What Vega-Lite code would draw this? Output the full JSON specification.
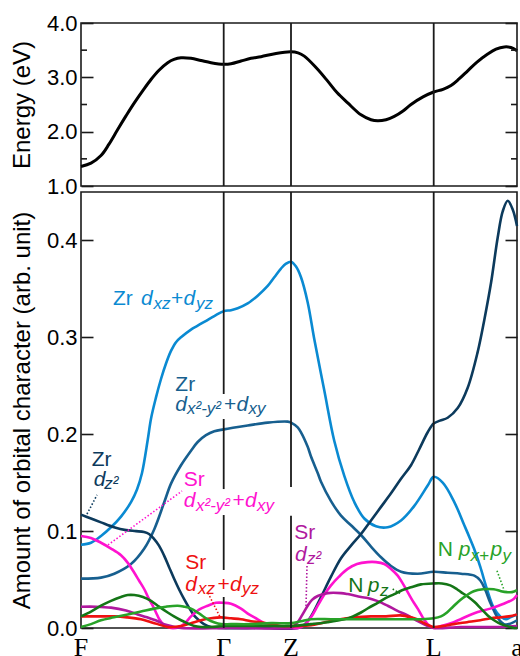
{
  "$schema": "https://vega.github.io/schema/vega-lite/v6.json",
  "padding": {"left": 9, "top": 11, "right": 12, "bottom": 34},
  "spacing": 6,
  "bounds": "flush",
  "config": {
    "view": {"stroke": "#1a1a1a", "strokeWidth": 1.6},
    "font": "Liberation Sans",
    "axis": {"grid": false, "domain": false, "tickColor": "#1a1a1a", "tickWidth": 1.6, "labelColor": "black", "titleColor": "black", "labelFont": "Liberation Sans", "titleFont": "Liberation Sans", "titleFontWeight": "normal", "labelFontSize": 22, "titleFontSize": 24}
  },
  "datasets": {
    "energy": [
      {"k":0,"E":1.36},{"k":10,"E":1.42},{"k":20,"E":1.56},{"k":28,"E":1.77},{"k":36.7,"E":2.04},{"k":45,"E":2.29},{"k":53.3,"E":2.53},{"k":62,"E":2.76},{"k":70,"E":2.96},{"k":78,"E":3.13},{"k":86.7,"E":3.27},{"k":93,"E":3.33},{"k":100,"E":3.36},{"k":110,"E":3.35},{"k":120,"E":3.31},{"k":130,"E":3.27},{"k":142.7,"E":3.24},{"k":150,"E":3.25},{"k":160,"E":3.30},{"k":170,"E":3.35},{"k":180,"E":3.38},{"k":195,"E":3.44},{"k":210,"E":3.47},{"k":217,"E":3.45},{"k":223.3,"E":3.39},{"k":235,"E":3.18},{"k":246.7,"E":2.93},{"k":256,"E":2.72},{"k":266.7,"E":2.53},{"k":280,"E":2.31},{"k":290,"E":2.22},{"k":296.7,"E":2.20},{"k":305,"E":2.22},{"k":313.3,"E":2.28},{"k":322,"E":2.38},{"k":330,"E":2.5},{"k":342,"E":2.64},{"k":352.7,"E":2.73},{"k":362,"E":2.78},{"k":370,"E":2.85},{"k":378,"E":2.97},{"k":386.7,"E":3.12},{"k":396,"E":3.28},{"k":406.7,"E":3.43},{"k":415,"E":3.52},{"k":423.3,"E":3.56},{"k":430,"E":3.55},{"k":436,"E":3.49}
    ],
    "kpts": [{"k":142.7},{"k":210},{"k":352.7}],
    "kticks": [{"k":0,"name":"F"},{"k":142.7,"name":"Γ"},{"k":210,"name":"Z"},{"k":352.7,"name":"L"},{"k":436,"name":"a"}],
    "minorE": [{"E":1.5},{"E":2.5},{"E":3.5}],
    "kseg": [
      {"k":142.7,"y":0.2415,"y2":0.45},{"k":142.7,"y":0.1434,"y2":0.2157},{"k":142.7,"y":0.0599,"y2":0.1166},{"k":142.7,"y":0,"y2":0.032},
      {"k":210,"y":0.1455,"y2":0.45},{"k":210,"y":0,"y2":0.1159},
      {"k":352.7,"y":0,"y2":0.45}
    ],
    "orb": [
      {"s":"Zr dxz+dyz","k":0,"v":0.086},{"s":"Zr dxz+dyz","k":10,"v":0.088},{"s":"Zr dxz+dyz","k":20,"v":0.095},{"s":"Zr dxz+dyz","k":30,"v":0.104},{"s":"Zr dxz+dyz","k":40,"v":0.115},{"s":"Zr dxz+dyz","k":50,"v":0.13},{"s":"Zr dxz+dyz","k":56,"v":0.143},{"s":"Zr dxz+dyz","k":61,"v":0.16},{"s":"Zr dxz+dyz","k":66.7,"v":0.194},{"s":"Zr dxz+dyz","k":70,"v":0.216},{"s":"Zr dxz+dyz","k":75,"v":0.238},{"s":"Zr dxz+dyz","k":80,"v":0.257},{"s":"Zr dxz+dyz","k":85,"v":0.273},{"s":"Zr dxz+dyz","k":90,"v":0.286},{"s":"Zr dxz+dyz","k":95,"v":0.295},{"s":"Zr dxz+dyz","k":100,"v":0.300},{"s":"Zr dxz+dyz","k":110,"v":0.308},{"s":"Zr dxz+dyz","k":116.7,"v":0.312},{"s":"Zr dxz+dyz","k":133.3,"v":0.322},{"s":"Zr dxz+dyz","k":142.7,"v":0.327},{"s":"Zr dxz+dyz","k":150,"v":0.328},{"s":"Zr dxz+dyz","k":156.7,"v":0.330},{"s":"Zr dxz+dyz","k":166.7,"v":0.335},{"s":"Zr dxz+dyz","k":176.7,"v":0.343},{"s":"Zr dxz+dyz","k":186.7,"v":0.353},{"s":"Zr dxz+dyz","k":193.3,"v":0.362},{"s":"Zr dxz+dyz","k":200,"v":0.371},{"s":"Zr dxz+dyz","k":205,"v":0.376},{"s":"Zr dxz+dyz","k":210,"v":0.378},{"s":"Zr dxz+dyz","k":215,"v":0.373},{"s":"Zr dxz+dyz","k":220,"v":0.362},{"s":"Zr dxz+dyz","k":226.7,"v":0.336},{"s":"Zr dxz+dyz","k":233.3,"v":0.298},{"s":"Zr dxz+dyz","k":243.3,"v":0.245},{"s":"Zr dxz+dyz","k":253.3,"v":0.193},{"s":"Zr dxz+dyz","k":263.3,"v":0.157},{"s":"Zr dxz+dyz","k":273.3,"v":0.13},{"s":"Zr dxz+dyz","k":283.3,"v":0.113},{"s":"Zr dxz+dyz","k":295,"v":0.105},{"s":"Zr dxz+dyz","k":306.7,"v":0.104},{"s":"Zr dxz+dyz","k":320,"v":0.111},{"s":"Zr dxz+dyz","k":333.3,"v":0.126},{"s":"Zr dxz+dyz","k":346.7,"v":0.147},{"s":"Zr dxz+dyz","k":352.7,"v":0.156},{"s":"Zr dxz+dyz","k":361.7,"v":0.150},{"s":"Zr dxz+dyz","k":373.3,"v":0.13},{"s":"Zr dxz+dyz","k":383.3,"v":0.106},{"s":"Zr dxz+dyz","k":388.3,"v":0.094},{"s":"Zr dxz+dyz","k":393,"v":0.082},{"s":"Zr dxz+dyz","k":399.3,"v":0.063},{"s":"Zr dxz+dyz","k":406,"v":0.04},{"s":"Zr dxz+dyz","k":412.7,"v":0.021},{"s":"Zr dxz+dyz","k":419.3,"v":0.012},{"s":"Zr dxz+dyz","k":425,"v":0.009},{"s":"Zr dxz+dyz","k":429.3,"v":0.011},{"s":"Zr dxz+dyz","k":436,"v":0.014},

      {"s":"Zr dx2-y2+dxy","k":0,"v":0.051},{"s":"Zr dx2-y2+dxy","k":20,"v":0.052},{"s":"Zr dx2-y2+dxy","k":33.3,"v":0.056},{"s":"Zr dx2-y2+dxy","k":50,"v":0.066},{"s":"Zr dx2-y2+dxy","k":63.3,"v":0.082},{"s":"Zr dx2-y2+dxy","k":73.3,"v":0.102},{"s":"Zr dx2-y2+dxy","k":83.3,"v":0.13},{"s":"Zr dx2-y2+dxy","k":90,"v":0.149},{"s":"Zr dx2-y2+dxy","k":100,"v":0.168},{"s":"Zr dx2-y2+dxy","k":110,"v":0.183},{"s":"Zr dx2-y2+dxy","k":116.7,"v":0.192},{"s":"Zr dx2-y2+dxy","k":125,"v":0.199},{"s":"Zr dx2-y2+dxy","k":133.3,"v":0.203},{"s":"Zr dx2-y2+dxy","k":142.7,"v":0.205},{"s":"Zr dx2-y2+dxy","k":166.7,"v":0.209},{"s":"Zr dx2-y2+dxy","k":186.7,"v":0.212},{"s":"Zr dx2-y2+dxy","k":206.7,"v":0.213},{"s":"Zr dx2-y2+dxy","k":210,"v":0.212},{"s":"Zr dx2-y2+dxy","k":216.7,"v":0.207},{"s":"Zr dx2-y2+dxy","k":220,"v":0.202},{"s":"Zr dx2-y2+dxy","k":226.7,"v":0.187},{"s":"Zr dx2-y2+dxy","k":230,"v":0.177},{"s":"Zr dx2-y2+dxy","k":236.7,"v":0.16},{"s":"Zr dx2-y2+dxy","k":240,"v":0.151},{"s":"Zr dx2-y2+dxy","k":250,"v":0.131},{"s":"Zr dx2-y2+dxy","k":260,"v":0.116},{"s":"Zr dx2-y2+dxy","k":270,"v":0.106},{"s":"Zr dx2-y2+dxy","k":280,"v":0.096},{"s":"Zr dx2-y2+dxy","k":290,"v":0.084},{"s":"Zr dx2-y2+dxy","k":300,"v":0.073},{"s":"Zr dx2-y2+dxy","k":310,"v":0.064},{"s":"Zr dx2-y2+dxy","k":320,"v":0.058},{"s":"Zr dx2-y2+dxy","k":336.7,"v":0.056},{"s":"Zr dx2-y2+dxy","k":352.7,"v":0.058},{"s":"Zr dx2-y2+dxy","k":366.7,"v":0.057},{"s":"Zr dx2-y2+dxy","k":380,"v":0.056},{"s":"Zr dx2-y2+dxy","k":393.3,"v":0.054},{"s":"Zr dx2-y2+dxy","k":399.3,"v":0.049},{"s":"Zr dx2-y2+dxy","k":404,"v":0.040},{"s":"Zr dx2-y2+dxy","k":409.3,"v":0.026},{"s":"Zr dx2-y2+dxy","k":413.3,"v":0.017},{"s":"Zr dx2-y2+dxy","k":417.7,"v":0.009},{"s":"Zr dx2-y2+dxy","k":423,"v":0.004},{"s":"Zr dx2-y2+dxy","k":428,"v":0.004},{"s":"Zr dx2-y2+dxy","k":436,"v":0.008},

      {"s":"Zr dz2","k":0,"v":0.117},{"s":"Zr dz2","k":10,"v":0.113},{"s":"Zr dz2","k":20,"v":0.109},{"s":"Zr dz2","k":33,"v":0.104},{"s":"Zr dz2","k":45,"v":0.101},{"s":"Zr dz2","k":55,"v":0.100},{"s":"Zr dz2","k":63,"v":0.099},{"s":"Zr dz2","k":68,"v":0.097},{"s":"Zr dz2","k":73,"v":0.092},{"s":"Zr dz2","k":78,"v":0.085},{"s":"Zr dz2","k":83,"v":0.075},{"s":"Zr dz2","k":88,"v":0.063},{"s":"Zr dz2","k":93,"v":0.051},{"s":"Zr dz2","k":98,"v":0.04},{"s":"Zr dz2","k":103,"v":0.03},{"s":"Zr dz2","k":108,"v":0.021},{"s":"Zr dz2","k":113,"v":0.013},{"s":"Zr dz2","k":118,"v":0.008},{"s":"Zr dz2","k":123,"v":0.004},{"s":"Zr dz2","k":130,"v":0.001},{"s":"Zr dz2","k":140,"v":0.0},{"s":"Zr dz2","k":180,"v":0.0},{"s":"Zr dz2","k":217,"v":0.0},{"s":"Zr dz2","k":223,"v":0.003},{"s":"Zr dz2","k":230,"v":0.012},{"s":"Zr dz2","k":240,"v":0.032},{"s":"Zr dz2","k":250,"v":0.053},{"s":"Zr dz2","k":260,"v":0.072},{"s":"Zr dz2","k":270,"v":0.085},{"s":"Zr dz2","k":280,"v":0.097},{"s":"Zr dz2","k":290,"v":0.111},{"s":"Zr dz2","k":300,"v":0.125},{"s":"Zr dz2","k":310,"v":0.139},{"s":"Zr dz2","k":320,"v":0.154},{"s":"Zr dz2","k":330,"v":0.168},{"s":"Zr dz2","k":338,"v":0.184},{"s":"Zr dz2","k":346.7,"v":0.202},{"s":"Zr dz2","k":352.7,"v":0.211},{"s":"Zr dz2","k":359,"v":0.214},{"s":"Zr dz2","k":366.7,"v":0.217},{"s":"Zr dz2","k":376.7,"v":0.227},{"s":"Zr dz2","k":386.7,"v":0.248},{"s":"Zr dz2","k":396.7,"v":0.285},{"s":"Zr dz2","k":403.3,"v":0.318},{"s":"Zr dz2","k":410,"v":0.356},{"s":"Zr dz2","k":416.7,"v":0.403},{"s":"Zr dz2","k":421.7,"v":0.43},{"s":"Zr dz2","k":426.7,"v":0.441},{"s":"Zr dz2","k":431.7,"v":0.432},{"s":"Zr dz2","k":436,"v":0.415},

      {"s":"Sr dx2-y2+dxy","k":0,"v":0.095},{"s":"Sr dx2-y2+dxy","k":10,"v":0.093},{"s":"Sr dx2-y2+dxy","k":20,"v":0.088},{"s":"Sr dx2-y2+dxy","k":30,"v":0.082},{"s":"Sr dx2-y2+dxy","k":40,"v":0.075},{"s":"Sr dx2-y2+dxy","k":47,"v":0.067},{"s":"Sr dx2-y2+dxy","k":53.3,"v":0.057},{"s":"Sr dx2-y2+dxy","k":58,"v":0.049},{"s":"Sr dx2-y2+dxy","k":63.3,"v":0.04},{"s":"Sr dx2-y2+dxy","k":67,"v":0.032},{"s":"Sr dx2-y2+dxy","k":71.7,"v":0.023},{"s":"Sr dx2-y2+dxy","k":75,"v":0.016},{"s":"Sr dx2-y2+dxy","k":78.3,"v":0.009},{"s":"Sr dx2-y2+dxy","k":82,"v":0.004},{"s":"Sr dx2-y2+dxy","k":85,"v":0.002},{"s":"Sr dx2-y2+dxy","k":90,"v":0.0},{"s":"Sr dx2-y2+dxy","k":98,"v":0.001},{"s":"Sr dx2-y2+dxy","k":104,"v":0.005},{"s":"Sr dx2-y2+dxy","k":110,"v":0.012},{"s":"Sr dx2-y2+dxy","k":118,"v":0.019},{"s":"Sr dx2-y2+dxy","k":126.7,"v":0.023},{"s":"Sr dx2-y2+dxy","k":135,"v":0.026},{"s":"Sr dx2-y2+dxy","k":142.7,"v":0.026},{"s":"Sr dx2-y2+dxy","k":150,"v":0.025},{"s":"Sr dx2-y2+dxy","k":160,"v":0.02},{"s":"Sr dx2-y2+dxy","k":168,"v":0.014},{"s":"Sr dx2-y2+dxy","k":176.7,"v":0.009},{"s":"Sr dx2-y2+dxy","k":185,"v":0.004},{"s":"Sr dx2-y2+dxy","k":195,"v":0.001},{"s":"Sr dx2-y2+dxy","k":210,"v":0.0},{"s":"Sr dx2-y2+dxy","k":217,"v":0.0},{"s":"Sr dx2-y2+dxy","k":223.3,"v":0.003},{"s":"Sr dx2-y2+dxy","k":230,"v":0.011},{"s":"Sr dx2-y2+dxy","k":236.7,"v":0.023},{"s":"Sr dx2-y2+dxy","k":243,"v":0.034},{"s":"Sr dx2-y2+dxy","k":250,"v":0.044},{"s":"Sr dx2-y2+dxy","k":258,"v":0.053},{"s":"Sr dx2-y2+dxy","k":266.7,"v":0.061},{"s":"Sr dx2-y2+dxy","k":276,"v":0.066},{"s":"Sr dx2-y2+dxy","k":286.7,"v":0.068},{"s":"Sr dx2-y2+dxy","k":295,"v":0.068},{"s":"Sr dx2-y2+dxy","k":303.3,"v":0.066},{"s":"Sr dx2-y2+dxy","k":310,"v":0.061},{"s":"Sr dx2-y2+dxy","k":316.7,"v":0.054},{"s":"Sr dx2-y2+dxy","k":321.7,"v":0.046},{"s":"Sr dx2-y2+dxy","k":326.7,"v":0.037},{"s":"Sr dx2-y2+dxy","k":331.7,"v":0.028},{"s":"Sr dx2-y2+dxy","k":336.7,"v":0.02},{"s":"Sr dx2-y2+dxy","k":341.7,"v":0.011},{"s":"Sr dx2-y2+dxy","k":346.7,"v":0.004},{"s":"Sr dx2-y2+dxy","k":352.7,"v":0.0},{"s":"Sr dx2-y2+dxy","k":360,"v":0.002},{"s":"Sr dx2-y2+dxy","k":372.7,"v":0.006},{"s":"Sr dx2-y2+dxy","k":392.7,"v":0.015},{"s":"Sr dx2-y2+dxy","k":409.3,"v":0.02},{"s":"Sr dx2-y2+dxy","k":422.7,"v":0.025},{"s":"Sr dx2-y2+dxy","k":432.7,"v":0.03},{"s":"Sr dx2-y2+dxy","k":436,"v":0.034},

      {"s":"Sr dz2","k":0,"v":0.022},{"s":"Sr dz2","k":15,"v":0.022},{"s":"Sr dz2","k":30,"v":0.021},{"s":"Sr dz2","k":45,"v":0.018},{"s":"Sr dz2","k":56.7,"v":0.014},{"s":"Sr dz2","k":66,"v":0.011},{"s":"Sr dz2","k":76.7,"v":0.007},{"s":"Sr dz2","k":83,"v":0.004},{"s":"Sr dz2","k":90,"v":0.002},{"s":"Sr dz2","k":100,"v":0.0},{"s":"Sr dz2","k":150,"v":0.0},{"s":"Sr dz2","k":210,"v":0.0},{"s":"Sr dz2","k":212,"v":0.001},{"s":"Sr dz2","k":216.7,"v":0.006},{"s":"Sr dz2","k":221,"v":0.013},{"s":"Sr dz2","k":226.7,"v":0.023},{"s":"Sr dz2","k":231,"v":0.029},{"s":"Sr dz2","k":236.7,"v":0.033},{"s":"Sr dz2","k":246.7,"v":0.036},{"s":"Sr dz2","k":260,"v":0.036},{"s":"Sr dz2","k":266.7,"v":0.035},{"s":"Sr dz2","k":280,"v":0.032},{"s":"Sr dz2","k":286.7,"v":0.031},{"s":"Sr dz2","k":296,"v":0.028},{"s":"Sr dz2","k":306.7,"v":0.023},{"s":"Sr dz2","k":316,"v":0.018},{"s":"Sr dz2","k":326.7,"v":0.013},{"s":"Sr dz2","k":336.7,"v":0.007},{"s":"Sr dz2","k":346.7,"v":0.002},{"s":"Sr dz2","k":352.7,"v":0.0},{"s":"Sr dz2","k":380,"v":0.001},{"s":"Sr dz2","k":413.3,"v":0.001},{"s":"Sr dz2","k":436,"v":0.002},

      {"s":"Sr dxz+dyz","k":0,"v":0.012},{"s":"Sr dxz+dyz","k":20,"v":0.012},{"s":"Sr dxz+dyz","k":33.3,"v":0.012},{"s":"Sr dxz+dyz","k":46,"v":0.011},{"s":"Sr dxz+dyz","k":60,"v":0.009},{"s":"Sr dxz+dyz","k":70,"v":0.006},{"s":"Sr dxz+dyz","k":76.7,"v":0.004},{"s":"Sr dxz+dyz","k":86.7,"v":0.001},{"s":"Sr dxz+dyz","k":93,"v":0.001},{"s":"Sr dxz+dyz","k":100,"v":0.002},{"s":"Sr dxz+dyz","k":110,"v":0.005},{"s":"Sr dxz+dyz","k":120,"v":0.008},{"s":"Sr dxz+dyz","k":130,"v":0.010},{"s":"Sr dxz+dyz","k":140,"v":0.011},{"s":"Sr dxz+dyz","k":150,"v":0.010},{"s":"Sr dxz+dyz","k":160,"v":0.009},{"s":"Sr dxz+dyz","k":170,"v":0.007},{"s":"Sr dxz+dyz","k":180,"v":0.006},{"s":"Sr dxz+dyz","k":190,"v":0.004},{"s":"Sr dxz+dyz","k":200,"v":0.002},{"s":"Sr dxz+dyz","k":210,"v":0.002},{"s":"Sr dxz+dyz","k":220,"v":0.002},{"s":"Sr dxz+dyz","k":230,"v":0.003},{"s":"Sr dxz+dyz","k":240,"v":0.005},{"s":"Sr dxz+dyz","k":253.3,"v":0.008},{"s":"Sr dxz+dyz","k":273.3,"v":0.011},{"s":"Sr dxz+dyz","k":290,"v":0.012},{"s":"Sr dxz+dyz","k":305,"v":0.012},{"s":"Sr dxz+dyz","k":319.3,"v":0.013},{"s":"Sr dxz+dyz","k":330,"v":0.011},{"s":"Sr dxz+dyz","k":336,"v":0.009},{"s":"Sr dxz+dyz","k":343,"v":0.005},{"s":"Sr dxz+dyz","k":349.3,"v":0.002},{"s":"Sr dxz+dyz","k":352.7,"v":0.001},{"s":"Sr dxz+dyz","k":362,"v":0.002},{"s":"Sr dxz+dyz","k":372.7,"v":0.004},{"s":"Sr dxz+dyz","k":386,"v":0.006},{"s":"Sr dxz+dyz","k":399.3,"v":0.008},{"s":"Sr dxz+dyz","k":410,"v":0.010},{"s":"Sr dxz+dyz","k":419.3,"v":0.011},{"s":"Sr dxz+dyz","k":428,"v":0.012},{"s":"Sr dxz+dyz","k":436,"v":0.014},

      {"s":"N pz","k":0,"v":0.012},{"s":"N pz","k":10,"v":0.017},{"s":"N pz","k":20,"v":0.023},{"s":"N pz","k":30,"v":0.028},{"s":"N pz","k":40,"v":0.032},{"s":"N pz","k":46.7,"v":0.034},{"s":"N pz","k":53.3,"v":0.034},{"s":"N pz","k":62,"v":0.032},{"s":"N pz","k":70,"v":0.028},{"s":"N pz","k":78,"v":0.022},{"s":"N pz","k":86.7,"v":0.016},{"s":"N pz","k":93,"v":0.012},{"s":"N pz","k":100,"v":0.008},{"s":"N pz","k":106,"v":0.005},{"s":"N pz","k":113.3,"v":0.002},{"s":"N pz","k":120,"v":0.001},{"s":"N pz","k":130,"v":0.001},{"s":"N pz","k":142.7,"v":0.002},{"s":"N pz","k":170,"v":0.002},{"s":"N pz","k":190,"v":0.002},{"s":"N pz","k":210,"v":0.002},{"s":"N pz","k":230,"v":0.004},{"s":"N pz","k":246.7,"v":0.006},{"s":"N pz","k":263.3,"v":0.009},{"s":"N pz","k":272,"v":0.012},{"s":"N pz","k":280,"v":0.016},{"s":"N pz","k":288,"v":0.021},{"s":"N pz","k":296.7,"v":0.026},{"s":"N pz","k":305,"v":0.031},{"s":"N pz","k":313.3,"v":0.035},{"s":"N pz","k":321,"v":0.039},{"s":"N pz","k":330,"v":0.042},{"s":"N pz","k":340,"v":0.045},{"s":"N pz","k":352.7,"v":0.046},{"s":"N pz","k":361,"v":0.046},{"s":"N pz","k":369.3,"v":0.044},{"s":"N pz","k":376,"v":0.04},{"s":"N pz","k":380,"v":0.037},{"s":"N pz","k":386,"v":0.033},{"s":"N pz","k":393.3,"v":0.027},{"s":"N pz","k":400,"v":0.02},{"s":"N pz","k":406.7,"v":0.013},{"s":"N pz","k":413,"v":0.008},{"s":"N pz","k":420,"v":0.004},{"s":"N pz","k":426,"v":0.002},{"s":"N pz","k":433.3,"v":0.0},{"s":"N pz","k":436,"v":0.0},

      {"s":"N px+py","k":0,"v":0.001},{"s":"N px+py","k":10,"v":0.004},{"s":"N px+py","k":20,"v":0.008},{"s":"N px+py","k":33,"v":0.011},{"s":"N px+py","k":46.7,"v":0.014},{"s":"N px+py","k":60,"v":0.017},{"s":"N px+py","k":73.3,"v":0.02},{"s":"N px+py","k":85,"v":0.022},{"s":"N px+py","k":96.7,"v":0.023},{"s":"N px+py","k":103,"v":0.022},{"s":"N px+py","k":110,"v":0.02},{"s":"N px+py","k":118,"v":0.015},{"s":"N px+py","k":126.7,"v":0.009},{"s":"N px+py","k":133,"v":0.006},{"s":"N px+py","k":140,"v":0.004},{"s":"N px+py","k":150,"v":0.004},{"s":"N px+py","k":170,"v":0.004},{"s":"N px+py","k":190,"v":0.005},{"s":"N px+py","k":210,"v":0.005},{"s":"N px+py","k":220,"v":0.007},{"s":"N px+py","k":230,"v":0.009},{"s":"N px+py","k":250,"v":0.009},{"s":"N px+py","k":263.3,"v":0.009},{"s":"N px+py","k":280,"v":0.009},{"s":"N px+py","k":296.7,"v":0.009},{"s":"N px+py","k":313,"v":0.009},{"s":"N px+py","k":330,"v":0.009},{"s":"N px+py","k":340,"v":0.009},{"s":"N px+py","k":352.7,"v":0.010},{"s":"N px+py","k":360,"v":0.012},{"s":"N px+py","k":366,"v":0.016},{"s":"N px+py","k":372,"v":0.022},{"s":"N px+py","k":379.3,"v":0.029},{"s":"N px+py","k":386,"v":0.034},{"s":"N px+py","k":392.7,"v":0.038},{"s":"N px+py","k":402,"v":0.040},{"s":"N px+py","k":412.7,"v":0.040},{"s":"N px+py","k":420,"v":0.038},{"s":"N px+py","k":426,"v":0.037},{"s":"N px+py","k":431,"v":0.037},{"s":"N px+py","k":436,"v":0.039}
    ],
    "labMain": [
      {"k":32,"v":0.3333,"t":"Zr","s":"Zr dxz+dyz"},{"k":90,"v":0.3333,"t":"+","s":"Zr dxz+dyz"},
      {"k":94.3,"v":0.2449,"t":"Zr","s":"Zr dx2-y2+dxy"},{"k":143,"v":0.2243,"t":"+","s":"Zr dx2-y2+dxy"},
      {"k":10.7,"v":0.1675,"t":"Zr","s":"Zr dz2"},
      {"k":102.7,"v":0.1462,"t":"Sr","s":"Sr dx2-y2+dxy"},{"k":151.5,"v":0.1246,"t":"+","s":"Sr dx2-y2+dxy"},
      {"k":104.3,"v":0.0609,"t":"Sr","s":"Sr dxz+dyz"},{"k":136.5,"v":0.0385,"t":"+","s":"Sr dxz+dyz"},
      {"k":213.3,"v":0.0918,"t":"Sr","s":"Sr dz2"},
      {"k":267.3,"v":0.0368,"t":"N","s":"N pz"},
      {"k":356.7,"v":0.0746,"t":"N","s":"N px+py"}
    ],
    "labItal": [
      {"k":60,"v":0.3333,"t":"d","s":"Zr dxz+dyz"},{"k":102.5,"v":0.3333,"t":"d","s":"Zr dxz+dyz"},
      {"k":94.3,"v":0.2243,"t":"d","s":"Zr dx2-y2+dxy"},{"k":155.5,"v":0.2243,"t":"d","s":"Zr dx2-y2+dxy"},
      {"k":12.7,"v":0.1462,"t":"d","s":"Zr dz2"},
      {"k":102.7,"v":0.1246,"t":"d","s":"Sr dx2-y2+dxy"},{"k":164,"v":0.1246,"t":"d","s":"Sr dx2-y2+dxy"},
      {"k":104.3,"v":0.0385,"t":"d","s":"Sr dxz+dyz"},{"k":149,"v":0.0385,"t":"d","s":"Sr dxz+dyz"},
      {"k":214,"v":0.0695,"t":"d","s":"Sr dz2"},
      {"k":286.7,"v":0.0368,"t":"p","s":"N pz"},
      {"k":377.7,"v":0.0746,"t":"p","s":"N px+py"},{"k":409.5,"v":0.0746,"t":"p","s":"N px+py"}
    ],
    "labSub": [
      {"k":72.5,"v":0.3292,"t":"xz","s":"Zr dxz+dyz"},{"k":115,"v":0.3292,"t":"yz","s":"Zr dxz+dyz"},
      {"k":106,"v":0.2208,"t":"x²-y²","s":"Zr dx2-y2+dxy"},{"k":167.5,"v":0.2208,"t":"xy","s":"Zr dx2-y2+dxy"},
      {"k":23.3,"v":0.1434,"t":"z²","s":"Zr dz2"},
      {"k":115,"v":0.1207,"t":"x²-y²","s":"Sr dx2-y2+dxy"},{"k":176,"v":0.1207,"t":"xy","s":"Sr dx2-y2+dxy"},
      {"k":117,"v":0.0351,"t":"xz","s":"Sr dxz+dyz"},{"k":161,"v":0.0351,"t":"yz","s":"Sr dxz+dyz"},
      {"k":226,"v":0.066,"t":"z²","s":"Sr dz2"},
      {"k":299,"v":0.033,"t":"z","s":"N pz"},
      {"k":389.5,"v":0.0695,"t":"x+","s":"N px+py"},{"k":421.5,"v":0.0695,"t":"y","s":"N px+py"}
    ],
    "leaders": [
      {"k":6,"v":0.1176,"k2":16,"v2":0.1373,"s":"Zr dz2"},
      {"k":27,"v":0.0857,"k2":101,"v2":0.1414,"s":"Sr dx2-y2+dxy"},
      {"k":127,"v":0.0361,"k2":139,"v2":0.0114,"s":"Sr dxz+dyz"},
      {"k":226,"v":0.064,"k2":225,"v2":0.022,"s":"Sr dz2"},
      {"k":311.7,"v":0.0402,"k2":320,"v2":0.0351,"s":"N pz"},
      {"k":416,"v":0.0591,"k2":422.7,"v2":0.0402,"s":"N px+py"}
    ]
  },
  "vconcat": [
    {
      "width": 436,
      "height": 163,
      "layer": [
        {
          "data": {"name": "energy"},
          "mark": {"type": "line", "color": "black", "strokeWidth": 3, "interpolate": "catmull-rom"},
          "encoding": {
            "x": {"field": "k", "type": "quantitative", "scale": {"domain": [0, 436], "nice": false, "zero": false}, "axis": null},
            "y": {"field": "E", "type": "quantitative", "scale": {"domain": [1, 4], "nice": false, "zero": false},
                  "axis": {"orient": "left", "values": [1, 2, 3, 4], "format": ".1f", "tickSize": -12, "labelPadding": 16, "title": "Energy (eV)", "titlePadding": 12}}
          }
        },
        {
          "data": {"name": "kpts"},
          "mark": {"type": "rule", "color": "#1a1a1a", "strokeWidth": 1.8},
          "encoding": {"x": {"field": "k", "type": "quantitative", "axis": null}}
        },
        {
          "data": {"name": "minorE"},
          "mark": {"type": "rule", "color": "#1a1a1a", "strokeWidth": 1.6},
          "encoding": {
            "x": {"datum": 0, "type": "quantitative", "axis": null},
            "x2": {"datum": 6},
            "y": {"field": "E", "type": "quantitative", "axis": {"orient": "right", "values": [1, 2, 3, 4], "labels": false, "tickSize": -12, "title": null}}
          }
        },
        {
          "data": {"name": "minorE"},
          "mark": {"type": "rule", "color": "#1a1a1a", "strokeWidth": 1.6},
          "encoding": {
            "x": {"datum": 430, "type": "quantitative", "axis": null},
            "x2": {"datum": 436},
            "y": {"field": "E", "type": "quantitative", "axis": null}
          }
        },
        {
          "mark": {"type": "text", "fontSize": 24, "align": "left", "baseline": "alphabetic", "color": "black"},
          "encoding": {
            "x": {"datum": 14, "type": "quantitative", "axis": null},
            "y": {"datum": 3.49, "type": "quantitative", "axis": null},
            "text": {"value": "(a)"}
          }
        }
      ],
      "resolve": {"axis": {"y": "independent"}}
    },
    {
      "width": 436,
      "height": 436,
      "layer": [
        {
          "data": {"name": "orb"},
          "mark": {"type": "line", "strokeWidth": 2.6, "interpolate": "catmull-rom"},
          "encoding": {
            "x": {"field": "k", "type": "quantitative", "scale": {"domain": [0, 436], "nice": false, "zero": false}, "axis": null},
            "y": {"field": "v", "type": "quantitative", "scale": {"domain": [0, 0.45], "nice": false, "zero": false},
                  "axis": {"orient": "left", "values": [0, 0.1, 0.2, 0.3, 0.4], "format": ".1f", "tickSize": -12, "labelPadding": 16, "title": "Amount of orbital character (arb. unit)", "titlePadding": 12}},
            "color": {"field": "s", "type": "nominal", "legend": null,
                      "scale": {"domain": ["Zr dxz+dyz", "Zr dx2-y2+dxy", "Zr dz2", "Sr dx2-y2+dxy", "Sr dxz+dyz", "Sr dz2", "N pz", "N px+py"],
                                "range": ["#0a8ad2", "#175f8f", "#0c3a5c", "#ff12cf", "#ee1111", "#b0189e", "#147516", "#28a228"]}}
          }
        },
        {
          "data": {"name": "kseg"},
          "mark": {"type": "rule", "color": "#1a1a1a", "strokeWidth": 1.8},
          "encoding": {
            "x": {"field": "k", "type": "quantitative", "axis": null},
            "y": {"field": "y", "type": "quantitative", "axis": {"orient": "right", "values": [0, 0.1, 0.2, 0.3, 0.4], "labels": false, "tickSize": -12, "title": null}},
            "y2": {"field": "y2"}
          }
        },
        {
          "data": {"name": "kticks"},
          "mark": {"type": "text", "font": "Liberation Serif", "fontSize": 26, "baseline": "top", "align": "center", "dy": 7, "color": "black"},
          "encoding": {
            "x": {"field": "k", "type": "quantitative", "axis": null},
            "y": {"datum": 0, "type": "quantitative", "axis": null},
            "text": {"field": "name"}
          }
        },
        {
          "data": {"name": "leaders"},
          "mark": {"type": "rule", "strokeWidth": 1.6, "strokeDash": [1.5, 2]},
          "encoding": {
            "x": {"field": "k", "type": "quantitative", "axis": null},
            "x2": {"field": "k2"},
            "y": {"field": "v", "type": "quantitative", "axis": null},
            "y2": {"field": "v2"},
            "color": {"field": "s", "type": "nominal", "legend": null}
          }
        },
        {
          "data": {"name": "labMain"},
          "mark": {"type": "text", "fontSize": 21, "align": "left", "baseline": "alphabetic"},
          "encoding": {
            "x": {"field": "k", "type": "quantitative", "axis": null},
            "y": {"field": "v", "type": "quantitative", "axis": null},
            "text": {"field": "t"},
            "color": {"field": "s", "type": "nominal", "legend": null}
          }
        },
        {
          "data": {"name": "labItal"},
          "mark": {"type": "text", "fontSize": 21, "fontStyle": "italic", "align": "left", "baseline": "alphabetic"},
          "encoding": {
            "x": {"field": "k", "type": "quantitative", "axis": null},
            "y": {"field": "v", "type": "quantitative", "axis": null},
            "text": {"field": "t"},
            "color": {"field": "s", "type": "nominal", "legend": null}
          }
        },
        {
          "data": {"name": "labSub"},
          "mark": {"type": "text", "fontSize": 17, "fontStyle": "italic", "align": "left", "baseline": "alphabetic"},
          "encoding": {
            "x": {"field": "k", "type": "quantitative", "axis": null},
            "y": {"field": "v", "type": "quantitative", "axis": null},
            "text": {"field": "t"},
            "color": {"field": "s", "type": "nominal", "legend": null}
          }
        },
        {
          "mark": {"type": "text", "fontSize": 24, "align": "left", "baseline": "alphabetic", "color": "black"},
          "encoding": {
            "x": {"datum": 14, "type": "quantitative", "axis": null},
            "y": {"datum": 0.419, "type": "quantitative", "axis": null},
            "text": {"value": "(b)"}
          }
        }
      ],
      "resolve": {"axis": {"y": "independent"}}
    }
  ]
}
